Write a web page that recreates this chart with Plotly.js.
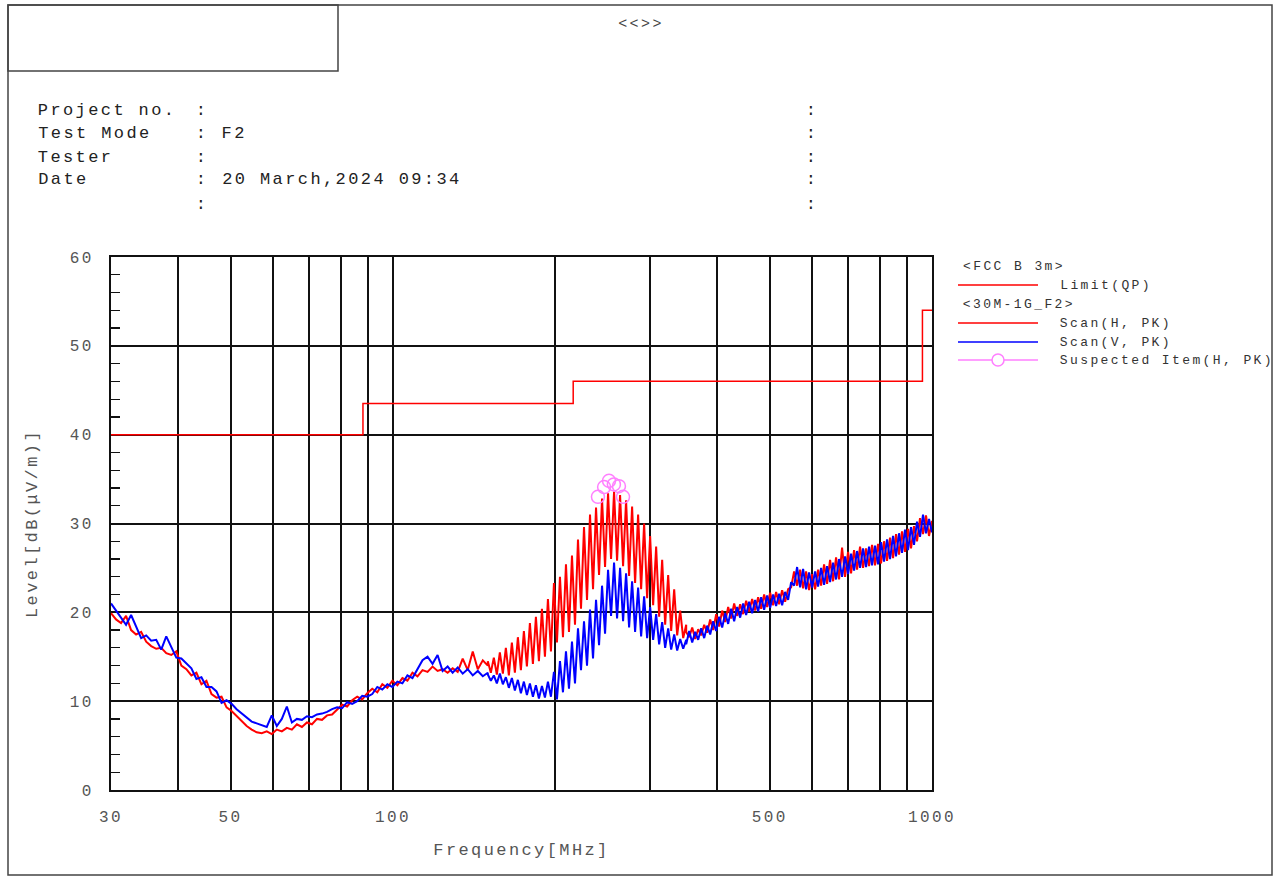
<!DOCTYPE html>
<html>
<head>
<meta charset="utf-8">
<script src="https://cdn.plot.ly/plotly-3.0.1.min.js"></script>
<style>
  html, body { margin: 0; padding: 0; background: #fff; }
  #chart { width: 1276px; height: 878px; }
  .main-svg text { letter-spacing: 2.4px; }
</style>
</head>
<body>
<div id="chart"></div>
<script>
// ---- Data ----
// Limit line FCC B 3m (QP)
const limitFreq  = [30, 88, 216, 960, 1000];
const limitLevel = [40, 43.5, 46, 54, 54];

// Sweep segments (MHz) for the scans
const segA = [30, 150];
const segB = [150, 350];
const segC = [350, 1000];

// Scan (H, PK)
const scanH_A = [19.9,19.2,18.8,19.6,18.0,17.5,17.8,16.7,16.2,15.9,
  16.0,15.4,15.2,15.6,14.0,13.6,12.9,13.2,11.9,12.3,
  10.8,10.4,10.5,9.3,8.9,8.3,7.8,7.2,6.8,6.5,
  6.4,6.6,6.3,6.8,6.6,7.0,6.8,7.4,7.1,7.6,
  7.4,8.0,7.9,8.4,8.5,9.0,9.6,9.4,10.1,10.5,
  10.2,10.9,11.4,11.0,11.9,11.5,12.3,11.8,12.6,12.3,
  13.2,12.8,13.5,13.3,13.9,13.4,13.6,13.2,13.7,13.3,
  14.8,13.5,15.6,13.6,14.6,14.0];
const scanH_B = [14.5,13.2,14.9,13.0,15.5,13.1,16.0,12.9,16.6,13.2,
  17.2,13.5,17.9,13.9,18.8,14.2,19.5,14.5,20.4,15.0,
  21.5,15.6,23.3,16.6,24.0,17.2,25.4,17.8,26.4,18.6,
  28.2,20.4,29.6,21.4,31.0,22.6,31.8,24.2,32.8,25.1,
  33.4,26.0,33.6,25.8,33.2,25.2,32.6,24.1,31.9,23.3,
  31.0,22.6,30.0,21.6,28.6,20.8,27.4,19.5,25.9,18.6,
  24.2,17.9,22.6,17.4,20.2,17.1,18.6];
const scanH_C = [17.8,17.2,18.3,17.0,18.1,17.4,18.6,17.7,19.2,18.0,
  19.8,18.4,20.2,18.9,20.6,19.3,21.0,19.6,20.9,19.8,
  21.3,20.1,21.5,20.2,21.7,20.4,22.0,20.6,22.2,20.8,
  22.3,20.9,22.5,21.2,22.6,22.8,24.6,23.0,24.8,22.7,
  24.6,22.5,24.3,22.6,24.8,23.0,25.4,23.2,25.9,23.5,
  26.2,23.7,27.3,24.0,26.8,24.4,27.0,24.8,27.4,25.0,
  27.2,25.2,27.6,25.3,27.7,25.5,28.0,25.8,28.4,26.1,
  28.8,26.5,29.1,26.8,29.4,27.2,29.7,28.0,30.6,28.8,
  30.9,28.6,30.3];

// Scan (V, PK)
const scanV_A = [21.0,20.2,19.5,18.6,19.7,18.3,17.1,17.4,16.8,16.9,
  15.8,17.3,16.0,14.9,14.8,14.3,13.7,12.5,12.7,11.6,
  11.6,11.1,9.8,10.1,9.7,9.1,8.6,8.1,7.7,7.5,
  7.3,7.1,8.4,7.2,8.0,9.4,7.6,8.0,7.9,8.3,
  8.2,8.5,8.6,8.8,9.1,9.3,9.2,9.9,9.7,10.0,
  10.6,10.5,10.8,11.6,11.3,11.9,11.6,12.2,12.0,12.9,
  12.6,13.6,14.6,15.0,14.2,15.2,13.4,13.9,13.2,13.8,
  13.1,13.6,12.9,13.4,12.8,13.2];
const scanV_B = [13.0,12.3,12.9,12.0,13.1,11.9,12.7,11.5,12.6,11.2,
  12.4,10.9,12.2,10.7,12.0,10.5,11.8,10.3,11.7,10.4,
  12.2,10.5,13.3,10.2,14.5,11.0,15.6,11.4,16.7,12.0,
  18.2,13.5,19.0,14.0,20.3,14.8,21.4,16.3,23.0,17.6,
  24.8,19.6,25.6,19.3,25.0,19.0,24.4,18.3,23.5,17.8,
  22.8,17.3,21.8,17.1,20.6,16.9,19.8,16.4,18.9,16.0,
  18.2,15.8,17.5,15.7,17.0,15.9,16.9];
const scanV_C = [16.4,17.9,16.6,17.8,16.9,18.2,17.1,18.5,17.5,19.0,
  17.9,19.5,18.3,19.9,18.7,20.4,19.0,20.6,19.4,21.0,
  19.7,21.2,19.9,21.4,20.1,21.7,20.3,21.9,20.5,22.0,
  20.7,22.1,20.8,22.3,21.4,23.4,23.0,25.1,22.8,24.9,
  22.6,24.5,22.8,24.6,22.9,25.0,23.1,25.2,23.4,25.6,
  23.7,26.0,24.0,26.3,24.3,26.6,24.7,26.9,25.0,27.2,
  25.1,27.4,25.3,27.5,25.4,27.9,25.7,28.2,26.0,28.6,
  26.3,28.9,26.7,29.3,27.0,29.6,27.6,30.2,28.5,31.0,
  28.9,30.5,29.0];

// Suspected items (H, PK)
const suspFreq  = [240.1, 246.5, 251.7, 257.0, 262.6, 267.2];
const suspLevel = [33.0, 34.1, 34.8, 34.4, 34.2, 33.0];

// Tick labels
const xTickVals = [30,40,50,60,70,80,90,100,200,300,400,500,600,700,800,900,1000];
const xTickText = ['30','','50','','','','','100','','','','500','','','','','1000'];

// Header texts
const headerLabels = ['Project no.', 'Test Mode', 'Tester', 'Date', ''];
const headerValues = ['', 'F2', '', '20 March,2024 09:34', ''];

// ---- Build ----
function sweep(seg, n) {
  const a = Math.log10(seg[0]), b = Math.log10(seg[1]);
  const out = [];
  for (let i = 0; i < n; i++) out.push(Math.pow(10, a + (b - a) * i / (n - 1)));
  return out;
}
const freqAll = [].concat(sweep(segA, scanH_A.length), sweep(segB, scanH_B.length), sweep(segC, scanH_C.length));
const hAll = [].concat(scanH_A, scanH_B, scanH_C);
const vAll = [].concat(scanV_A, scanV_B, scanV_C);

const W = 1276, H = 878, L = 111, R = 932, T = 257, B = 790;
const LS = 2.4; // css letter spacing
const xp = px => (px - L) / (R - L);
const yp = py => (B - py) / (B - T);
const FONT = 'Liberation Mono, DejaVu Sans Mono, monospace';
const esc = s => s.replace(/</g, '&lt;').replace(/>/g, '&gt;');

const annotations = [];
function leftText(px, py, text, size, color) {
  // compensate for letter-spacing not included in Plotly's width measurement
  annotations.push({ xref: 'paper', yref: 'paper', x: xp(px + text.length * LS / 2), y: yp(py),
    xanchor: 'left', yanchor: 'middle', showarrow: false, text: esc(text),
    font: { family: FONT, size: size, color: color } });
}

const traces = [
  { x: limitFreq, y: limitLevel, mode: 'lines', line: { color: '#ff0000', width: 1.5, shape: 'hv' }, name: 'Limit(QP)' },
  { x: freqAll, y: hAll, mode: 'lines', line: { color: '#ff0000', width: 2 }, name: 'Scan(H, PK)' },
  { x: freqAll, y: vAll, mode: 'lines', line: { color: '#0000ff', width: 2 }, name: 'Scan(V, PK)' },
  { x: suspFreq, y: suspLevel, mode: 'markers', marker: { symbol: 'circle-open', size: 13, color: '#ff7fff', line: { width: 1.5 } }, name: 'Suspected Item(H, PK)' }
];

const shapes = [
  { type: 'rect', xref: 'paper', yref: 'paper', x0: xp(8), x1: xp(1272), y0: yp(875), y1: yp(5), line: { color: '#444', width: 1.5 } },
  { type: 'rect', xref: 'paper', yref: 'paper', x0: xp(8), x1: xp(338), y0: yp(71), y1: yp(5), line: { color: '#444', width: 1.5 } }
];
const legendRows = [
  { y: 266, text: '<FCC B 3m>' },
  { y: 285, text: 'Limit(QP)', color: '#ff0000' },
  { y: 304, text: '<30M-1G_F2>' },
  { y: 323, text: 'Scan(H, PK)', color: '#ff0000' },
  { y: 342, text: 'Scan(V, PK)', color: '#0000ff' },
  { y: 360, text: 'Suspected Item(H, PK)', color: '#ff7fff', circle: true }
];
legendRows.forEach(r => {
  if (r.color) {
    shapes.push({ type: 'line', xref: 'paper', yref: 'paper', x0: xp(958), x1: xp(1038), y0: yp(r.y), y1: yp(r.y), line: { color: r.color, width: 1.5 } });
    if (r.circle) {
      shapes.push({ type: 'circle', xref: 'paper', yref: 'paper', x0: xp(992), x1: xp(1004), y0: yp(366), y1: yp(354), fillcolor: '#fff', line: { color: r.color, width: 1.5 } });
    }
    leftText(1058, r.y, r.text, 13, '#333');
  } else {
    leftText(961, r.y, r.text, 13, '#333');
  }
});
annotations.push({ xref: 'paper', yref: 'paper', x: xp(641), y: yp(25), xanchor: 'center', yanchor: 'middle', showarrow: false, text: '&lt;&lt;&gt;&gt;', font: { family: FONT, size: 15, color: '#444' } });
const rowY = [110, 133, 157, 180, 204];
headerLabels.forEach((lab, i) => {
  if (lab) leftText(36, rowY[i], lab, 17, '#222');
  leftText(194, rowY[i], ':', 17, '#222');
  if (headerValues[i]) leftText(220, rowY[i], headerValues[i], 17, '#222');
  leftText(804, rowY[i], ':', 17, '#222');
});

const layout = {
  width: W, height: H, autosize: false,
  margin: { l: L, r: W - R, t: T, b: H - B, pad: 0 },
  paper_bgcolor: '#fff', plot_bgcolor: '#fff',
  showlegend: false,
  font: { family: FONT },
  xaxis: {
    type: 'log', range: [Math.log10(30), 3], automargin: false,
    tickmode: 'array', tickvals: xTickVals, ticktext: xTickText,
    showgrid: true, gridcolor: '#111', gridwidth: 2,
    showline: true, mirror: true, linecolor: '#111', linewidth: 2,
    ticks: '', zeroline: false, layer: 'below traces',
    tickfont: { family: FONT, size: 16, color: '#555' },
    ticklabelstandoff: 11,
    title: { text: 'Frequency[MHz]', font: { family: FONT, size: 17, color: '#555' }, standoff: 17 }
  },
  yaxis: {
    range: [0, 60], automargin: false,
    tickmode: 'linear', tick0: 0, dtick: 10,
    showgrid: true, gridcolor: '#111', gridwidth: 2,
    showline: true, mirror: true, linecolor: '#111', linewidth: 2,
    ticks: 'inside', ticklen: 9, tickcolor: '#111', tickwidth: 1.2,
    minor: { dtick: 2, tick0: 0, ticks: 'inside', ticklen: 9, tickcolor: '#111', tickwidth: 1.2, showgrid: false },
    zeroline: false, layer: 'below traces',
    tickfont: { family: FONT, size: 16, color: '#555' },
    ticklabelstandoff: 12,
    title: { text: 'Level[dB(μV/m)]', font: { family: FONT, size: 17, color: '#555' }, standoff: 33 }
  },
  shapes: shapes,
  annotations: annotations
};

Plotly.newPlot('chart', traces, layout, { displayModeBar: false, staticPlot: true });
</script>
</body>
</html>
